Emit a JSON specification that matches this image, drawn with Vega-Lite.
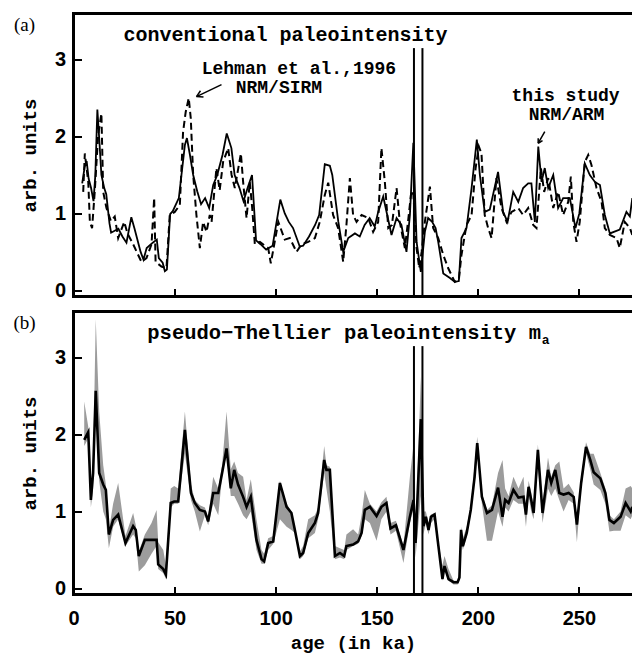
{
  "$schema": "https://vega.github.io/schema/vega-lite/v6.json",
  "background": "white",
  "padding": {"left": 12.5, "top": 10.5, "right": 0, "bottom": 2},
  "spacing": 8,
  "config": {
    "view": {"stroke": null},
    "axis": {
      "domain": false, "grid": false, "tickSize": -8, "tickWidth": 2, "tickColor": "black",
      "labelFont": "Liberation Sans", "labelFontWeight": "bold", "labelFontSize": 20, "labelColor": "black",
      "titleFont": "Liberation Mono", "titleFontWeight": "bold", "titleFontSize": 19, "titleColor": "black",
      "minExtent": 0
    },
    "axisX": {"labelPadding": 22, "titlePadding": 5, "labelFlush": false},
    "axisY": {"labelPadding": 16, "titlePadding": 15, "format": "d"}
  },
  "datasets": {
    "study": [
      {"age":4.3,"v":1.39},{"age":5.5,"v":1.6},{"age":6.5,"v":1.68},{"age":7.5,"v":1.45},{"age":8.7,"v":1.33},{"age":9.9,"v":1.16},{"age":10.8,"v":1.5},{"age":11.8,"v":2.35},{"age":12.8,"v":1.94},{"age":13.8,"v":1.5},{"age":15.2,"v":1.33},{"age":16.2,"v":1.25},{"age":17.8,"v":0.87},{"age":18.6,"v":0.75},{"age":22.2,"v":0.8},{"age":24.2,"v":0.7},{"age":26.2,"v":0.62},{"age":28.6,"v":0.95},{"age":30.2,"v":0.8},{"age":33.2,"v":0.5},{"age":34.6,"v":0.4},{"age":36.2,"v":0.55},{"age":39.2,"v":0.62},{"age":41.2,"v":0.66},{"age":42.2,"v":0.42},{"age":44.1,"v":0.36},{"age":45.2,"v":0.25},{"age":46.2,"v":0.27},{"age":47.8,"v":0.99},{"age":49.1,"v":1.03},{"age":52.1,"v":1.2},{"age":55.1,"v":1.89},{"age":56.1,"v":1.98},{"age":57.6,"v":1.76},{"age":59.2,"v":1.5},{"age":61.2,"v":1.29},{"age":63.1,"v":1.12},{"age":65.1,"v":1.2},{"age":67.1,"v":1.07},{"age":69.1,"v":1.37},{"age":71.1,"v":1.5},{"age":73.7,"v":1.76},{"age":75.8,"v":2.04},{"age":78.1,"v":1.85},{"age":79.7,"v":1.5},{"age":82.1,"v":1.33},{"age":84.1,"v":1.16},{"age":86.1,"v":1.33},{"age":88.3,"v":1.5},{"age":90.3,"v":0.65},{"age":92.5,"v":0.6},{"age":95.3,"v":0.53},{"age":98.5,"v":0.58},{"age":102.3,"v":1.18},{"age":104.5,"v":1.0},{"age":106.5,"v":0.89},{"age":108.6,"v":0.81},{"age":111.9,"v":0.57},{"age":113.6,"v":0.58},{"age":116.5,"v":0.7},{"age":119.5,"v":0.85},{"age":121.5,"v":0.98},{"age":124.3,"v":1.64},{"age":126.8,"v":1.62},{"age":128,"v":1.5},{"age":131,"v":0.89},{"age":133.4,"v":0.5},{"age":135.9,"v":0.68},{"age":139.2,"v":0.74},{"age":141.6,"v":0.7},{"age":144,"v":0.85},{"age":146.5,"v":0.94},{"age":149,"v":0.83},{"age":150.7,"v":1.02},{"age":153.2,"v":1.22},{"age":157.3,"v":0.72},{"age":159.8,"v":0.94},{"age":162.2,"v":0.85},{"age":164.7,"v":0.5},{"age":166.4,"v":0.98},{"age":168.1,"v":1.92},{"age":169.7,"v":0.63},{"age":171.8,"v":0.24},{"age":173.8,"v":0.76},{"age":175.4,"v":0.94},{"age":177.4,"v":0.89},{"age":179.1,"v":0.81},{"age":180.4,"v":0.63},{"age":182.9,"v":0.22},{"age":186.2,"v":0.16},{"age":188.6,"v":0.11},{"age":190.6,"v":0.12},{"age":191.9,"v":0.68},{"age":194.4,"v":0.81},{"age":196.9,"v":1.33},{"age":199.5,"v":1.96},{"age":201,"v":1.5},{"age":203.4,"v":1.02},{"age":205.9,"v":1.05},{"age":210,"v":1.54},{"age":212.5,"v":1.02},{"age":214.7,"v":0.89},{"age":217.5,"v":1.28},{"age":220,"v":1.15},{"age":222.4,"v":1.33},{"age":224.9,"v":1.39},{"age":226.5,"v":1.39},{"age":228.2,"v":0.89},{"age":229.9,"v":1.87},{"age":231.5,"v":1.41},{"age":233.1,"v":1.59},{"age":234.8,"v":1.33},{"age":237.3,"v":1.5},{"age":239.7,"v":1.07},{"age":242.2,"v":1.2},{"age":245.5,"v":1.2},{"age":248.3,"v":0.81},{"age":250.2,"v":1.0},{"age":252.9,"v":1.65},{"age":255.4,"v":1.5},{"age":257.9,"v":1.41},{"age":260.4,"v":1.37},{"age":262.8,"v":0.98},{"age":265.3,"v":0.74},{"age":270.2,"v":0.79},{"age":273.5,"v":1.02},{"age":275.2,"v":0.96},{"age":276.4,"v":1.2}
    ],
    "lehman": [
      {"age":4.8,"v":1.28},{"age":5.6,"v":1.78},{"age":7.3,"v":1.41},{"age":8.1,"v":0.89},{"age":9.2,"v":0.81},{"age":10.5,"v":1.28},{"age":12.2,"v":2.02},{"age":13.8,"v":2.3},{"age":14.7,"v":1.28},{"age":16.3,"v":1.07},{"age":18.5,"v":0.9},{"age":20.4,"v":0.96},{"age":22.1,"v":0.68},{"age":25.1,"v":0.89},{"age":26.7,"v":0.74},{"age":29.5,"v":0.6},{"age":33.6,"v":0.37},{"age":36.1,"v":0.42},{"age":38.6,"v":0.6},{"age":39.9,"v":1.2},{"age":40.6,"v":0.37},{"age":43.5,"v":0.31},{"age":46,"v":0.29},{"age":47.6,"v":0.98},{"age":50.1,"v":1.02},{"age":52.6,"v":1.11},{"age":54.2,"v":2.06},{"age":55.5,"v":2.32},{"age":57,"v":2.5},{"age":58,"v":2.24},{"age":59.2,"v":1.5},{"age":60.8,"v":0.98},{"age":62.5,"v":0.55},{"age":64.1,"v":0.89},{"age":65.8,"v":0.76},{"age":67.4,"v":0.98},{"age":68.3,"v":0.89},{"age":70.7,"v":1.59},{"age":72.3,"v":1.3},{"age":74,"v":1.67},{"age":76.5,"v":1.85},{"age":78.2,"v":1.5},{"age":79.8,"v":1.33},{"age":82.8,"v":1.78},{"age":83.9,"v":1.41},{"age":85.6,"v":0.94},{"age":87.2,"v":1.41},{"age":88.4,"v":1.07},{"age":89.7,"v":0.6},{"age":92.2,"v":0.63},{"age":96.3,"v":0.55},{"age":97.6,"v":0.35},{"age":99.3,"v":0.6},{"age":101.3,"v":0.89},{"age":104.5,"v":0.66},{"age":107,"v":0.68},{"age":110.3,"v":0.5},{"age":112.8,"v":0.6},{"age":116.1,"v":0.63},{"age":119.4,"v":0.68},{"age":121.8,"v":0.89},{"age":124.3,"v":1.24},{"age":126,"v":1.4},{"age":128.4,"v":0.98},{"age":130.9,"v":0.81},{"age":133.4,"v":0.37},{"age":135,"v":0.85},{"age":136.7,"v":1.46},{"age":138.3,"v":0.98},{"age":140,"v":0.89},{"age":142.5,"v":0.98},{"age":145.8,"v":0.94},{"age":148.2,"v":0.76},{"age":150.7,"v":0.89},{"age":152.3,"v":1.85},{"age":154,"v":1.41},{"age":155.7,"v":0.81},{"age":157.5,"v":0.85},{"age":159.8,"v":1.33},{"age":161.4,"v":0.89},{"age":163.9,"v":0.55},{"age":165.5,"v":0.9},{"age":166.9,"v":1.24},{"age":168,"v":1.3},{"age":169.7,"v":0.55},{"age":171,"v":0.29},{"age":172.2,"v":0.5},{"age":173.8,"v":0.89},{"age":176.3,"v":1.35},{"age":177.9,"v":0.81},{"age":180.4,"v":0.68},{"age":182.9,"v":0.46},{"age":185.3,"v":0.29},{"age":188.6,"v":0.11},{"age":190.6,"v":0.14},{"age":191.9,"v":0.46},{"age":194.4,"v":0.85},{"age":196.9,"v":0.98},{"age":198.9,"v":1.59},{"age":200.5,"v":1.87},{"age":201.8,"v":1.78},{"age":203.4,"v":0.98},{"age":205.1,"v":0.81},{"age":206.8,"v":0.68},{"age":209.2,"v":1.46},{"age":211.7,"v":1.07},{"age":214.2,"v":0.89},{"age":216.7,"v":1.02},{"age":220,"v":1.07},{"age":222.4,"v":0.98},{"age":224.9,"v":1.07},{"age":227.4,"v":0.85},{"age":229,"v":0.81},{"age":231.2,"v":1.59},{"age":232.8,"v":1.28},{"age":234.8,"v":1.46},{"age":237.3,"v":1.07},{"age":239.7,"v":1.28},{"age":242.2,"v":0.98},{"age":244.7,"v":1.15},{"age":246,"v":1.48},{"age":247.2,"v":0.89},{"age":248.8,"v":0.63},{"age":250.4,"v":0.89},{"age":252.9,"v":1.67},{"age":254.6,"v":1.76},{"age":256.2,"v":1.63},{"age":258.7,"v":1.33},{"age":261.2,"v":1.15},{"age":262.8,"v":0.81},{"age":265.3,"v":0.72},{"age":268.6,"v":0.68},{"age":270.2,"v":0.55},{"age":272.7,"v":0.89},{"age":275.2,"v":0.81},{"age":276.4,"v":0.72}
    ],
    "ma": [
      {"age":5.3,"m":1.93,"lo":1.85,"hi":2.43},{"age":7.3,"m":2.03,"lo":1.95,"hi":2.1},{"age":8.6,"m":1.15,"lo":1.05,"hi":1.25},{"age":9.7,"m":1.5,"lo":1.3,"hi":1.6},{"age":11.0,"m":2.57,"lo":2.4,"hi":3.5},{"age":12.7,"m":1.5,"lo":1.4,"hi":2.3},{"age":14.7,"m":1.35,"lo":1.0,"hi":1.6},{"age":16.0,"m":1.28,"lo":0.9,"hi":1.35},{"age":17.5,"m":0.7,"lo":0.52,"hi":0.75},{"age":19.6,"m":0.89,"lo":0.8,"hi":1.1},{"age":22.1,"m":0.96,"lo":0.9,"hi":1.37},{"age":25.7,"m":0.59,"lo":0.55,"hi":0.68},{"age":29.5,"m":0.81,"lo":0.7,"hi":0.98},{"age":30.8,"m":0.76,"lo":0.65,"hi":0.82},{"age":32.3,"m":0.42,"lo":0.22,"hi":0.48},{"age":35.3,"m":0.63,"lo":0.3,"hi":0.7},{"age":38.6,"m":0.63,"lo":0.45,"hi":0.85},{"age":41.1,"m":0.63,"lo":0.55,"hi":1.02},{"age":41.9,"m":0.31,"lo":0.25,"hi":0.6},{"age":44.4,"m":0.25,"lo":0.2,"hi":0.5},{"age":45.7,"m":0.18,"lo":0.12,"hi":0.3},{"age":48.1,"m":1.11,"lo":1.05,"hi":1.3},{"age":49.8,"m":1.13,"lo":1.1,"hi":1.33},{"age":51.8,"m":1.13,"lo":1.1,"hi":1.3},{"age":55.1,"m":2.06,"lo":1.75,"hi":2.3},{"age":58.1,"m":1.24,"lo":1.15,"hi":1.35},{"age":60.0,"m":1.11,"lo":1.0,"hi":1.15},{"age":62.5,"m":1.02,"lo":0.74,"hi":1.08},{"age":65.0,"m":1.0,"lo":0.95,"hi":1.05},{"age":66.6,"m":0.87,"lo":0.82,"hi":0.92},{"age":69.1,"m":1.24,"lo":1.1,"hi":1.45},{"age":71.6,"m":1.24,"lo":0.95,"hi":1.3},{"age":73.5,"m":1.5,"lo":1.45,"hi":1.6},{"age":75.7,"m":1.82,"lo":1.75,"hi":2.3},{"age":77.8,"m":1.3,"lo":1.2,"hi":1.55},{"age":79.5,"m":1.54,"lo":1.2,"hi":1.65},{"age":81.4,"m":1.35,"lo":1.1,"hi":1.5},{"age":83.9,"m":1.19,"lo":0.95,"hi":1.45},{"age":85.6,"m":1.06,"lo":0.9,"hi":1.15},{"age":87.7,"m":1.19,"lo":1.0,"hi":1.42},{"age":90.5,"m":0.63,"lo":0.5,"hi":0.9},{"age":93.0,"m":0.38,"lo":0.32,"hi":0.5},{"age":94.3,"m":0.35,"lo":0.32,"hi":0.45},{"age":96.3,"m":0.59,"lo":0.5,"hi":0.65},{"age":98.8,"m":0.61,"lo":0.58,"hi":0.68},{"age":102.1,"m":1.37,"lo":0.9,"hi":1.4},{"age":105.4,"m":1.06,"lo":0.8,"hi":1.1},{"age":107.8,"m":0.98,"lo":0.76,"hi":1.0},{"age":109.5,"m":0.76,"lo":0.72,"hi":0.8},{"age":112.0,"m":0.42,"lo":0.38,"hi":0.48},{"age":113.6,"m":0.46,"lo":0.42,"hi":0.55},{"age":116.1,"m":0.72,"lo":0.65,"hi":0.9},{"age":119.4,"m":0.85,"lo":0.72,"hi":0.95},{"age":121.0,"m":0.98,"lo":0.9,"hi":1.05},{"age":124.0,"m":1.67,"lo":1.5,"hi":1.85},{"age":125.1,"m":1.54,"lo":1.3,"hi":1.6},{"age":126.8,"m":1.54,"lo":1.0,"hi":1.58},{"age":129.3,"m":0.42,"lo":0.38,"hi":0.55},{"age":131.8,"m":0.46,"lo":0.4,"hi":0.52},{"age":133.9,"m":0.42,"lo":0.38,"hi":0.5},{"age":135.0,"m":0.55,"lo":0.5,"hi":0.7},{"age":138.3,"m":0.57,"lo":0.55,"hi":0.77},{"age":140.8,"m":0.61,"lo":0.58,"hi":0.7},{"age":142.5,"m":0.72,"lo":0.68,"hi":0.95},{"age":144.1,"m":1.02,"lo":0.9,"hi":1.28},{"age":146.6,"m":1.06,"lo":0.85,"hi":1.1},{"age":149.9,"m":0.94,"lo":0.62,"hi":1.0},{"age":152.3,"m":1.06,"lo":0.9,"hi":1.12},{"age":154.8,"m":1.11,"lo":1.0,"hi":1.19},{"age":156.8,"m":0.78,"lo":0.7,"hi":0.85},{"age":159.5,"m":0.82,"lo":0.75,"hi":0.88},{"age":163.2,"m":0.5,"lo":0.33,"hi":0.55},{"age":166.4,"m":0.93,"lo":0.85,"hi":1.45},{"age":168.2,"m":1.15,"lo":1.05,"hi":1.88},{"age":169.2,"m":0.59,"lo":0.4,"hi":0.7},{"age":171.8,"m":2.2,"lo":1.2,"hi":2.75},{"age":173.1,"m":0.81,"lo":0.7,"hi":1.0},{"age":174.3,"m":0.93,"lo":0.85,"hi":1.0},{"age":175.6,"m":0.76,"lo":0.7,"hi":0.85},{"age":176.8,"m":0.93,"lo":0.85,"hi":0.96},{"age":178.6,"m":0.96,"lo":0.9,"hi":0.98},{"age":180.5,"m":0.55,"lo":0.5,"hi":0.6},{"age":182.5,"m":0.12,"lo":0.1,"hi":0.3},{"age":183.5,"m":0.29,"lo":0.25,"hi":0.42},{"age":185.5,"m":0.12,"lo":0.1,"hi":0.25},{"age":188.0,"m":0.08,"lo":0.05,"hi":0.1},{"age":190.0,"m":0.08,"lo":0.05,"hi":0.1},{"age":190.9,"m":0.14,"lo":0.1,"hi":0.2},{"age":191.7,"m":0.76,"lo":0.6,"hi":0.8},{"age":192.6,"m":0.55,"lo":0.5,"hi":0.65},{"age":194.5,"m":0.72,"lo":0.68,"hi":0.8},{"age":196.5,"m":1.02,"lo":0.95,"hi":1.08},{"age":198.4,"m":1.45,"lo":1.4,"hi":1.6},{"age":199.7,"m":1.89,"lo":1.8,"hi":1.97},{"age":202.0,"m":1.19,"lo":1.1,"hi":1.25},{"age":204.5,"m":0.98,"lo":0.62,"hi":1.02},{"age":207.0,"m":1.02,"lo":0.62,"hi":1.08},{"age":210.0,"m":1.31,"lo":1.0,"hi":1.5},{"age":212.2,"m":0.93,"lo":0.8,"hi":1.67},{"age":213.5,"m":1.15,"lo":1.05,"hi":1.3},{"age":215.2,"m":1.11,"lo":1.0,"hi":1.2},{"age":217.6,"m":1.28,"lo":1.15,"hi":1.45},{"age":220.1,"m":1.18,"lo":1.1,"hi":1.3},{"age":222.6,"m":1.19,"lo":1.1,"hi":1.45},{"age":223.8,"m":0.96,"lo":0.8,"hi":1.0},{"age":225.1,"m":1.32,"lo":1.2,"hi":1.4},{"age":226.4,"m":1.15,"lo":1.0,"hi":1.25},{"age":227.6,"m":0.98,"lo":0.9,"hi":1.05},{"age":229.7,"m":1.8,"lo":1.6,"hi":1.87},{"age":232.0,"m":0.98,"lo":0.85,"hi":1.1},{"age":234.7,"m":1.54,"lo":1.3,"hi":1.7},{"age":236.3,"m":1.37,"lo":1.2,"hi":1.45},{"age":238.3,"m":1.54,"lo":1.3,"hi":1.6},{"age":240.3,"m":1.24,"lo":1.15,"hi":1.65},{"age":242.4,"m":1.22,"lo":1.0,"hi":1.3},{"age":244.9,"m":1.24,"lo":1.15,"hi":1.36},{"age":247.4,"m":1.19,"lo":1.1,"hi":1.25},{"age":249.0,"m":0.83,"lo":0.6,"hi":0.9},{"age":251.1,"m":1.37,"lo":1.3,"hi":1.45},{"age":253.5,"m":1.84,"lo":1.75,"hi":1.9},{"age":255.6,"m":1.67,"lo":1.55,"hi":1.75},{"age":257.3,"m":1.51,"lo":1.35,"hi":1.75},{"age":260.6,"m":1.43,"lo":1.28,"hi":1.5},{"age":263.1,"m":1.24,"lo":1.1,"hi":1.3},{"age":265.1,"m":0.89,"lo":0.74,"hi":0.95},{"age":267.3,"m":0.85,"lo":0.75,"hi":0.9},{"age":270.6,"m":0.93,"lo":0.75,"hi":1.0},{"age":273.1,"m":1.11,"lo":0.95,"hi":1.3},{"age":275.6,"m":1.0,"lo":0.9,"hi":1.33},{"age":276.4,"m":1.06,"lo":0.95,"hi":1.3}
    ],
    "vlines": [{"age":168.4},{"age":172.6}],
    "arrows": [
      {"ax":73.21,"ay":2.676,"bx":60.84,"by":2.52},
      {"ax":64.3,"ay":2.513,"bx":60.84,"by":2.52},
      {"ax":62.8,"ay":2.595,"bx":60.84,"by":2.52},
      {"ax":233.12,"ay":2.065,"bx":229.86,"by":1.913},
      {"ax":231.99,"ay":1.946,"bx":229.86,"by":1.913},
      {"ax":229.84,"ay":1.978,"bx":229.86,"by":1.913}
    ]
  },
  "vconcat": [
    {
      "width": 559,
      "height": 283,
      "layer": [
        {
          "data": {"name": "study"},
          "mark": {"type": "line", "color": "black", "strokeWidth": 1.8},
          "encoding": {
            "x": {"field": "age", "type": "quantitative", "scale": {"domain": [0, 276.5], "nice": false, "zero": false},
                  "axis": {"title": null, "labels": false, "values": [0, 50, 100, 150, 200, 250]}},
            "y": {"field": "v", "type": "quantitative", "scale": {"domain": [-0.08, 3.6], "nice": false, "zero": false},
                  "axis": {"title": "arb. units", "values": [0, 1, 2, 3]}}
          }
        },
        {
          "data": {"name": "lehman"},
          "mark": {"type": "line", "color": "black", "strokeWidth": 2, "strokeDash": [7, 4]},
          "encoding": {
            "x": {"field": "age", "type": "quantitative"},
            "y": {"field": "v", "type": "quantitative"}
          }
        },
        {
          "data": {"name": "vlines"},
          "mark": {"type": "rule", "color": "black", "strokeWidth": 2},
          "encoding": {
            "x": {"field": "age", "type": "quantitative"},
            "y": {"datum": 3.15},
            "y2": {"datum": -0.08}
          }
        },
        {
          "data": {"name": "arrows"},
          "mark": {"type": "rule", "color": "black", "strokeWidth": 1.5},
          "encoding": {
            "x": {"field": "ax", "type": "quantitative"},
            "y": {"field": "ay", "type": "quantitative"},
            "x2": {"field": "bx"},
            "y2": {"field": "by"}
          }
        },
        {
          "data": {"values": [{"edge": "top"}]},
          "mark": {"type": "rule", "color": "black", "strokeWidth": 3},
          "encoding": {"y": {"datum": 3.6}}
        },
        {
          "data": {"values": [{"edge": "bottom"}]},
          "mark": {"type": "rule", "color": "black", "strokeWidth": 3},
          "encoding": {"y": {"datum": -0.08}}
        },
        {
          "data": {"values": [{"edge": "left"}]},
          "mark": {"type": "rule", "color": "black", "strokeWidth": 3, "strokeCap": "square"},
          "encoding": {"x": {"datum": 0}}
        },
        {
          "data": {"values": [{"age": 104.9, "v": 3.326, "text": "conventional paleointensity"}]},
          "mark": {"type": "text", "font": "Liberation Mono", "fontWeight": "bold", "fontSize": 20, "color": "black", "align": "center", "baseline": "middle"},
          "encoding": {
            "x": {"field": "age", "type": "quantitative"},
            "y": {"field": "v", "type": "quantitative"},
            "text": {"field": "text"}
          }
        },
        {
          "data": {"values": [
            {"age": 111.5, "v": 2.878, "text": "Lehman et al.,1996"},
            {"age": 101.6, "v": 2.631, "text": "NRM/SIRM"},
            {"age": 243.4, "v": 2.527, "text": "this study"},
            {"age": 243.9, "v": 2.28, "text": "NRM/ARM"}
          ]},
          "mark": {"type": "text", "font": "Liberation Mono", "fontWeight": "bold", "fontSize": 18, "color": "black", "align": "center", "baseline": "middle"},
          "encoding": {
            "x": {"field": "age", "type": "quantitative"},
            "y": {"field": "v", "type": "quantitative"},
            "text": {"field": "text"}
          }
        },
        {
          "data": {"values": [{"age": -24.24, "v": 3.456, "text": "(a)"}]},
          "mark": {"type": "text", "font": "Liberation Serif", "fontSize": 19, "color": "black", "align": "center", "baseline": "middle"},
          "encoding": {
            "x": {"field": "age", "type": "quantitative"},
            "y": {"field": "v", "type": "quantitative"},
            "text": {"field": "text"}
          }
        }
      ]
    },
    {
      "width": 559,
      "height": 283,
      "layer": [
        {
          "data": {"name": "ma"},
          "mark": {"type": "area", "color": "#9c9c9c", "opacity": 1},
          "encoding": {
            "x": {"field": "age", "type": "quantitative", "scale": {"domain": [0, 276.5], "nice": false, "zero": false},
                  "axis": {"title": "age (in ka)", "values": [0, 50, 100, 150, 200, 250]}},
            "y": {"field": "lo", "type": "quantitative", "scale": {"domain": [-0.08, 3.6], "nice": false, "zero": false},
                  "axis": {"title": "arb. units", "values": [0, 1, 2, 3]}},
            "y2": {"field": "hi"}
          }
        },
        {
          "data": {"name": "ma"},
          "mark": {"type": "line", "color": "black", "strokeWidth": 2.6},
          "encoding": {
            "x": {"field": "age", "type": "quantitative"},
            "y": {"field": "m", "type": "quantitative"}
          }
        },
        {
          "data": {"name": "vlines"},
          "mark": {"type": "rule", "color": "black", "strokeWidth": 2},
          "encoding": {
            "x": {"field": "age", "type": "quantitative"},
            "y": {"datum": 3.15},
            "y2": {"datum": -0.08}
          }
        },
        {
          "data": {"values": [{"edge": "top"}]},
          "mark": {"type": "rule", "color": "black", "strokeWidth": 3},
          "encoding": {"y": {"datum": 3.6}}
        },
        {
          "data": {"values": [{"edge": "bottom"}]},
          "mark": {"type": "rule", "color": "black", "strokeWidth": 3},
          "encoding": {"y": {"datum": -0.08}}
        },
        {
          "data": {"values": [{"edge": "left"}]},
          "mark": {"type": "rule", "color": "black", "strokeWidth": 3, "strokeCap": "square"},
          "encoding": {"x": {"datum": 0}}
        },
        {
          "data": {"values": [{"age": 133.85, "v": 3.314, "text": "pseudo−Thellier paleointensity m"}]},
          "mark": {"type": "text", "font": "Liberation Mono", "fontWeight": "bold", "fontSize": 20.5, "color": "black", "align": "center", "baseline": "middle"},
          "encoding": {
            "x": {"field": "age", "type": "quantitative"},
            "y": {"field": "v", "type": "quantitative"},
            "text": {"field": "text"}
          }
        },
        {
          "data": {"values": [{"age": 231.6, "v": 3.23, "text": "a"}]},
          "mark": {"type": "text", "font": "Liberation Mono", "fontWeight": "bold", "fontSize": 13, "color": "black", "align": "left", "baseline": "middle"},
          "encoding": {
            "x": {"field": "age", "type": "quantitative"},
            "y": {"field": "v", "type": "quantitative"},
            "text": {"field": "text"}
          }
        },
        {
          "data": {"values": [{"age": -24.24, "v": 3.456, "text": "(b)"}]},
          "mark": {"type": "text", "font": "Liberation Serif", "fontSize": 19, "color": "black", "align": "center", "baseline": "middle"},
          "encoding": {
            "x": {"field": "age", "type": "quantitative"},
            "y": {"field": "v", "type": "quantitative"},
            "text": {"field": "text"}
          }
        }
      ]
    }
  ]
}
